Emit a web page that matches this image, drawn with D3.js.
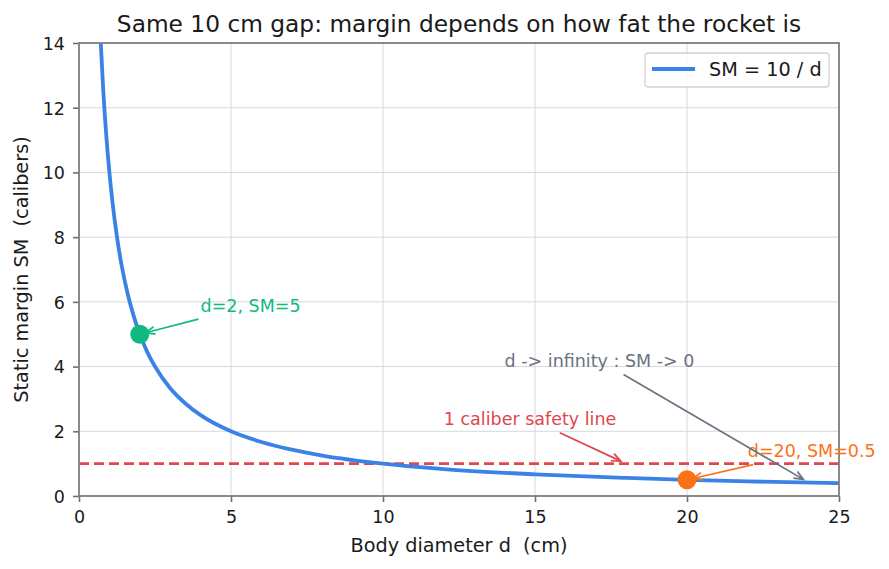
<!DOCTYPE html>
<html>
<head>
<meta charset="utf-8">
<script src="https://cdn.jsdelivr.net/npm/d3@7"></script>
<style>
  body { margin: 0; background: #fff; }
  svg { font-family: "DejaVu Sans", sans-serif; }
  svg text { white-space: pre; }
</style>
</head>
<body>
<div id="chart"></div>
<script>
const diameters = [0.7, 0.8, 0.9, 1, 1.1, 1.25, 1.4, 1.6, 1.8, 2, 2.25, 2.5, 3, 3.5, 4, 5, 6, 7, 8, 10, 12, 15, 18, 20, 22, 25];
const margins = [14.29, 12.5, 11.11, 10, 9.09, 8, 7.14, 6.25, 5.56, 5, 4.44, 4, 3.33, 2.86, 2.5, 2, 1.67, 1.43, 1.25, 1, 0.83, 0.67, 0.56, 0.5, 0.45, 0.4];

const xTicks = [0, 5, 10, 15, 20, 25];
const yTicks = [0, 2, 4, 6, 8, 10, 12, 14];

const safetyLevel = 1;

const highlights = [
  { d: 2, sm: 5, color: "#10b981", label: "d=2, SM=5", tx: 4, ty: 5.7 },
  { d: 20, sm: 0.5, color: "#f97316", label: "d=20, SM=0.5", tx: 22, ty: 1.2 }
];

const notes = [
  { label: "1 caliber safety line", color: "#e0464b", tx: 12, ty: 2.2, ax: 18, ay: 1.0 },
  { label: "d -> infinity : SM -> 0", color: "#6b7280", tx: 14, ty: 4.0, ax: 24, ay: 0.42 }
];

const svg = d3.select("#chart").append("svg")
  .attr("width", 889)
  .attr("height", 569);

const margin = { top: 43, right: 50, bottom: 73, left: 79 };
const width = 889 - margin.left - margin.right;
const height = 569 - margin.top - margin.bottom;

const chart = svg.append("g").attr("transform", `translate(${margin.left},${margin.top})`);

const xScale = d3.scaleLinear().domain([0, 25]).range([0, width]);
const yScale = d3.scaleLinear().domain([0, 14]).range([height, 0]);

svg.append("defs").append("clipPath").attr("id", "plotclip")
  .append("rect").attr("width", width).attr("height", height);

// grid
chart.append("g").selectAll("line").data(xTicks).join("line")
  .attr("x1", d => xScale(d)).attr("x2", d => xScale(d))
  .attr("y1", 0).attr("y2", height)
  .attr("stroke", "#d6d8dc").attr("stroke-width", 1);
chart.append("g").selectAll("line").data(yTicks).join("line")
  .attr("y1", d => yScale(d)).attr("y2", d => yScale(d))
  .attr("x1", 0).attr("x2", width)
  .attr("stroke", "#d6d8dc").attr("stroke-width", 1);

// axes
const xAxis = chart.append("g").attr("transform", `translate(0,${height})`)
  .call(d3.axisBottom(xScale).tickValues(xTicks).tickSize(6).tickPadding(6));
const yAxis = chart.append("g")
  .call(d3.axisLeft(yScale).tickValues(yTicks).tickSize(6).tickPadding(8));
[xAxis, yAxis].forEach(a => {
  a.select(".domain").remove();
  a.selectAll("line").attr("stroke", "#707070").attr("stroke-width", 1.6);
  a.selectAll("text").attr("fill", "#1a1a1a").attr("font-size", 17.5).attr("font-family", "DejaVu Sans");
});
xAxis.selectAll("text").attr("dy", "0.85em");
yAxis.selectAll("text").attr("dy", "0.36em");

const plot = chart.append("g").attr("clip-path", "url(#plotclip)");

// safety line
plot.append("line")
  .attr("x1", 0).attr("x2", width)
  .attr("y1", yScale(safetyLevel)).attr("y2", yScale(safetyLevel))
  .attr("stroke", "#e0464b").attr("stroke-width", 2.6)
  .attr("stroke-dasharray", "10,5");

// curve
const line = d3.line()
  .x((d, i) => xScale(diameters[i]))
  .y(d => yScale(d))
  .curve(d3.curveMonotoneX);
plot.append("path").datum(margins)
  .attr("d", line)
  .attr("fill", "none")
  .attr("stroke", "#3b82e6")
  .attr("stroke-width", 3.8);

// frame
chart.append("rect")
  .attr("width", width).attr("height", height)
  .attr("fill", "none").attr("stroke", "#808080").attr("stroke-width", 1.8);

// arrow helper
function arrow(x1, y1, x2, y2, color) {
  chart.append("line")
    .attr("x1", x1).attr("y1", y1).attr("x2", x2).attr("y2", y2)
    .attr("stroke", color).attr("stroke-width", 1.7);
  const ang = Math.atan2(y2 - y1, x2 - x1);
  const len = 10, spread = 0.4;
  const p = [
    [x2 - len * Math.cos(ang - spread), y2 - len * Math.sin(ang - spread)],
    [x2, y2],
    [x2 - len * Math.cos(ang + spread), y2 - len * Math.sin(ang + spread)]
  ];
  chart.append("polyline")
    .attr("points", p.map(q => q.join(",")).join(" "))
    .attr("fill", "none").attr("stroke", color).attr("stroke-width", 1.7);
}

// annotation: text at (tx,ty), arrow from text box towards (ax,ay)
function annotate(label, color, tx, ty, ax, ay) {
  const t = chart.append("text")
    .attr("x", xScale(tx)).attr("y", yScale(ty))
    .attr("fill", color).attr("font-size", 17.5)
    .text(label);
  const b = t.node().getBBox();
  const pad = 3;
  const cx = b.x + b.width / 2, cy = b.y + b.height / 2;
  const px = xScale(ax), py = yScale(ay);
  const dx = px - cx, dy = py - cy;
  // leave the padded text box, then a small gap
  const s = Math.min(
    dx !== 0 ? (b.width / 2 + pad) / Math.abs(dx) : Infinity,
    dy !== 0 ? (b.height / 2 + pad) / Math.abs(dy) : Infinity
  );
  const dist = Math.hypot(dx, dy);
  const ux = dx / dist, uy = dy / dist;
  const sx = cx + dx * s + ux * 2, sy = cy + dy * s + uy * 2;
  arrow(sx, sy, px - ux * 6, py - uy * 6, color);
}

// highlighted points
highlights.forEach(h => {
  annotate(h.label, h.color, h.tx, h.ty, h.d, h.sm);
  chart.append("circle")
    .attr("cx", xScale(h.d)).attr("cy", yScale(h.sm)).attr("r", 9.5)
    .attr("fill", h.color);
});

// text notes
notes.forEach(n => annotate(n.label, n.color, n.tx, n.ty, n.ax, n.ay));

// legend
const legend = chart.append("g").attr("transform", `translate(${width - 194},${10})`);
legend.append("rect")
  .attr("width", 184).attr("height", 34).attr("rx", 3)
  .attr("fill", "#fff").attr("fill-opacity", 0.85)
  .attr("stroke", "#d0d0d0").attr("stroke-width", 1.3);
legend.append("line")
  .attr("x1", 7).attr("x2", 50).attr("y1", 16).attr("y2", 16)
  .attr("stroke", "#3b82e6").attr("stroke-width", 3.8);
legend.append("text")
  .attr("x", 64).attr("y", 23)
  .attr("font-size", 19.25).attr("fill", "#1a1a1a")
  .text("SM = 10 / d");

// titles
svg.append("text")
  .attr("x", margin.left + width / 2).attr("y", 32)
  .attr("text-anchor", "middle").attr("font-size", 23.3).attr("fill", "#1a1a1a")
  .text("Same 10 cm gap: margin depends on how fat the rocket is");
svg.append("text")
  .attr("x", margin.left + width / 2).attr("y", 552)
  .attr("text-anchor", "middle").attr("font-size", 19.25).attr("fill", "#1a1a1a")
  .text("Body diameter d  (cm)");
svg.append("text")
  .attr("transform", `translate(28,${margin.top + height / 2}) rotate(-90)`)
  .attr("text-anchor", "middle").attr("font-size", 19.25).attr("fill", "#1a1a1a")
  .text("Static margin SM  (calibers)");
</script>
</body>
</html>
